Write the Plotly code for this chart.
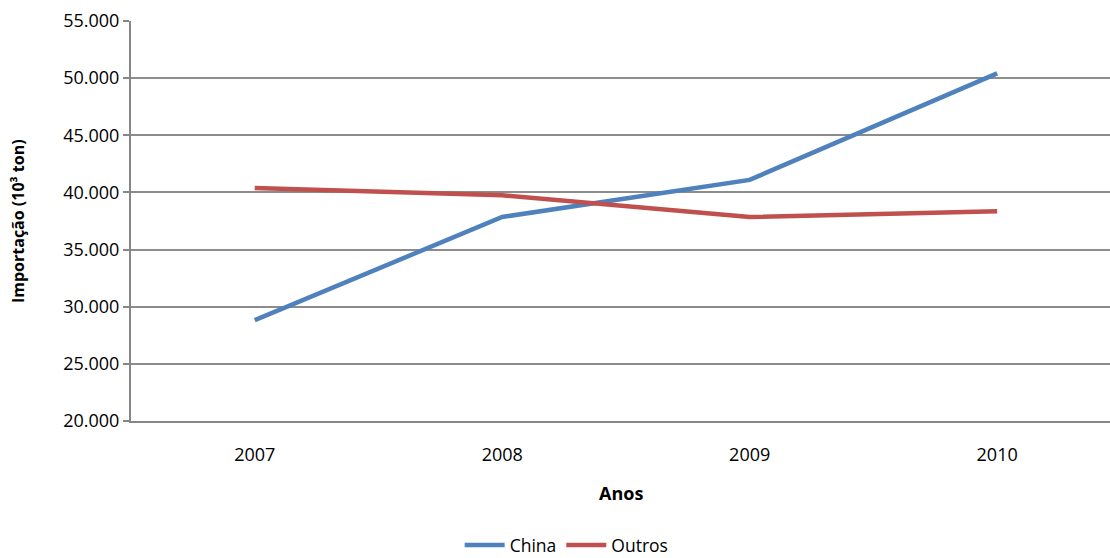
import plotly.graph_objects as go

# Import volumes (10^3 ton) by origin
anos = ["2007", "2008", "2009", "2010"]
china = [28830, 37850, 41100, 50420]
outros = [40380, 39750, 37850, 38360]

y_ticks = [20000, 25000, 30000, 35000, 40000, 45000, 50000, 55000]

font_family = "Open Sans, Lato, sans-serif"

fig = go.Figure()
fig.add_trace(go.Scatter(
    x=anos, y=china, name="China", mode="lines",
    line=dict(color="#4F81BD", width=4.5),
))
fig.add_trace(go.Scatter(
    x=anos, y=outros, name="Outros", mode="lines",
    line=dict(color="#C0504D", width=4.5),
))

fig.update_layout(
    width=1110, height=558,
    margin=dict(l=131, r=0, t=21, b=137, autoexpand=False),
    paper_bgcolor="white", plot_bgcolor="white",
    separators=",.",
    font=dict(family=font_family, size=18, color="black"),
    showlegend=True,
    legend=dict(
        orientation="h", x=0.445, xanchor="center", y=-0.31, yanchor="middle",
        font=dict(size=17.5), itemwidth=40, tracegroupgap=0,
    ),
    xaxis=dict(
        type="category", range=[-0.5, 3.456], automargin=False,
        showgrid=False, showline=True, linecolor="#868686", linewidth=2,
        ticks="", tickfont=dict(size=18), ticklabelstandoff=16,
        zeroline=False, fixedrange=True,
    ),
    yaxis=dict(
        range=[20000, 55000], tickvals=y_ticks, tickformat=",d", automargin=False,
        showgrid=True, gridcolor="#8c8c8c", gridwidth=1.5,
        showline=True, linecolor="#868686", linewidth=2,
        ticks="outside", ticklen=6, tickcolor="#868686", tickwidth=1.5,
        tickfont=dict(size=18),
        zeroline=False,
    ),
    annotations=[
        dict(text="<b>Anos</b>", xref="paper", yref="paper", x=0.5, y=-0.18,
             xanchor="center", yanchor="middle", showarrow=False,
             font=dict(size=18)),
        dict(text="<b>Importação (10³ ton)</b>", xref="paper", yref="paper",
             x=-0.1154, y=0.5, xanchor="center", yanchor="middle",
             textangle=-90, showarrow=False, font=dict(size=16)),
    ],
)

fig.write_html("out.html")
